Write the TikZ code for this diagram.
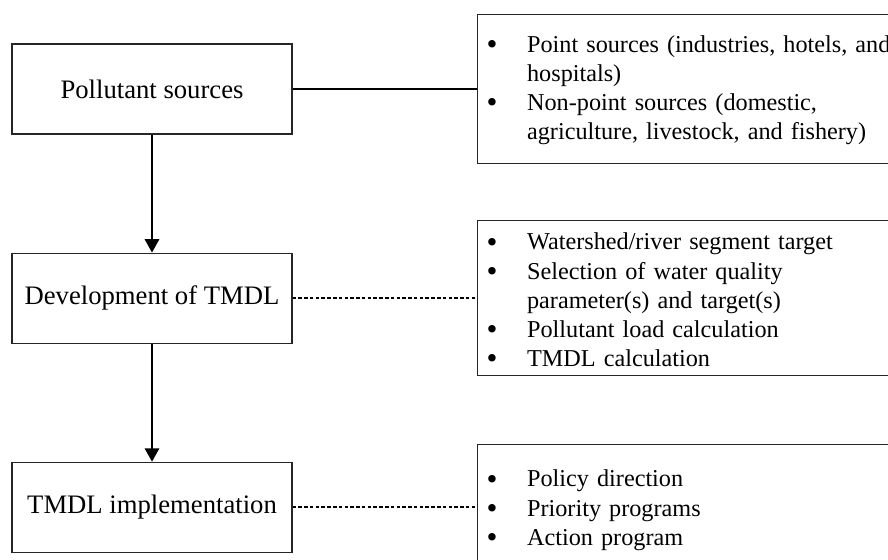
\documentclass[tikz,border=0pt]{standalone}
\usepackage{fontspec}
\setmainfont{Liberation Serif}
\usetikzlibrary{arrows.meta,positioning}

\newcommand{\bigbullet}{\raisebox{-0.95pt}{\fontsize{14pt}{0pt}\selectfont\textbullet}}
\newenvironment{blist}{%
	\begin{list}{\bigbullet}{%
		\setlength{\leftmargin}{22.5pt}%
		\setlength{\rightmargin}{14.5pt}%
		\setlength{\labelwidth}{22.5pt}%
		\setlength{\labelsep}{0pt}%
		\setlength{\itemindent}{0pt}%
		\setlength{\topsep}{0pt}%
		\setlength{\partopsep}{0pt}%
		\setlength{\parsep}{0pt}%
		\setlength{\itemsep}{0pt}%
		\def\makelabel##1{\hspace{4.3pt}##1\hfil}}%
	\raggedright}%
	{\end{list}}

\begin{document}
\begin{tikzpicture}[>={Triangle[length=6pt,width=6.5pt]}]
	\tikzstyle{rect_l}=[draw=black!85, line width=0.5pt, rectangle, minimum width=126pt, minimum height=40.5pt, inner sep=0pt, align=center, font=\fontsize{12pt}{14pt}\selectfont]
	\tikzstyle{rect_r}=[draw=black!85, line width=0.5pt, rectangle, text width=210pt, inner xsep=0pt, inner ysep=0pt, font=\fontsize{10.9pt}{13.1pt}\selectfont]
	\tikzstyle{dots}=[line width=0.75pt, dash pattern=on 1.6pt off 1pt]

	\useasboundingbox (0,0) rectangle (399.6pt,-252pt);
	\clip (0,0) rectangle (399.6pt,-252pt);

	\node[rect_l] (pol) at (68.4pt,-40.05pt) {Pollutant sources};
	\node[rect_l] (dev) [below=53.1pt of pol] {Development of TMDL};
	\node[rect_l] (impl) [below=53.1pt of dev] {TMDL implementation};

	\node[rect_r, minimum height=67pt, text height=3.9pt, text depth=63.1pt] (src) [right=82.8pt of pol] {\begin{blist}
		\item Point sources (industries, hotels, and hospitals)
		\item Non-point sources (domestic, agriculture, livestock, and fishery)
	\end{blist}};
	\node[rect_r, minimum height=67.5pt, text height=-2.1pt, text depth=69.6pt] (steps) [right=82.8pt of dev] {\begin{blist}
		\item Watershed/river segment target
		\item Selection of water quality parameter(s) and target(s)
		\item Pollutant load calculation
		\item TMDL calculation
	\end{blist}};
	\node[rect_r, minimum height=56.7pt, text height=6.1pt, text depth=50.6pt] (prog) [right=82.8pt of impl] {\begin{blist}
		\item Policy direction
		\item Priority programs
		\item Action program
	\end{blist}};

	\draw[line width=0.7pt] (pol) -- (src);
	\draw[dots] (dev) -- (steps);
	\draw[dots] (impl) -- (prog);

	\draw[->,line width=0.7pt] (pol) -- (dev);
	\draw[->,line width=0.7pt] (dev) -- (impl);
\end{tikzpicture}
\end{document}
